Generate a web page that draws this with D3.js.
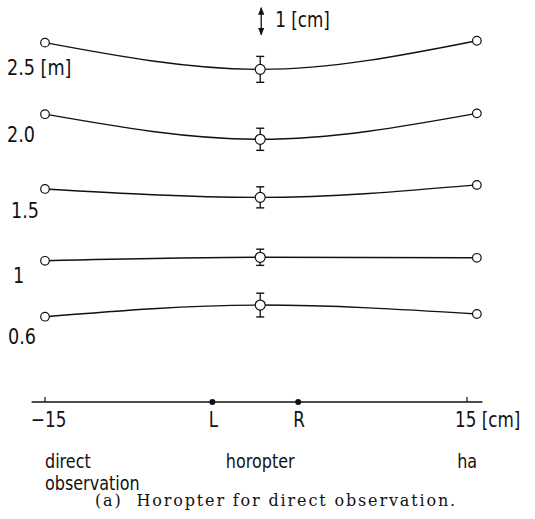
<!DOCTYPE html>
<html>
<head>
<meta charset="utf-8">
<script src="https://cdn.jsdelivr.net/npm/d3@7"></script>
<style>
	body { margin: 0; background: #fff; }
	svg { display: block; }
</style>
</head>
<body>
<div id="chart"></div>
<script>
'use strict';

// viewing distances (rows) and their labels
const rows = ["2.5 [m]", "2.0", "1.5", "1", "0.6"];

// x positions of the three measurements [cm]
const xPos = [-15, 0.3, 15.7];

// measured heights [cm above the base line], left / horopter / right
const leftVals = [13.31, 10.66, 7.89, 5.23, 3.16];
const midVals = [12.32, 9.73, 7.58, 5.36, 3.59];
const rightVals = [13.38, 10.69, 8.04, 5.34, 3.26];
// error bar half height [cm] at the horopter point
const midErr = [0.48, 0.41, 0.39, 0.30, 0.44];

// row label heights [cm]
const labelVals = [12.11, 9.64, 6.80, 4.42, 2.16];

// bottom axis
const axisTicks = [-15, 15];
const tickLabels = ["\u221215", "15 [cm]"];
const eyes = [{ name: "L", x: -3.1 }, { name: "R", x: 3.0 }];
const notes = [
	{ x: -15, lines: ["direct", "observation"], anchor: "start" },
	{ x: 0.3, lines: ["horopter"], anchor: "middle" },
	{ x: 14.3, lines: ["ha"], anchor: "start" }
];
const caption = "(a)  Horopter for direct observation.";

const width = 535, height = 519;
const sans = "'DejaVu Sans', sans-serif";
const squeeze = 0.8;	// narrow lettering of the original

const svg = d3.select("#chart")
	.append("svg")
		.attr("width", width)
		.attr("height", height)
	;

const xScale = d3.scaleLinear()
	.domain([-15, 15])
	.range([45, 467])
	;

// 1 cm on the vertical = 27 px
const yScale = d3.scaleLinear()
	.domain([0, 1])
	.range([402, 375])
	;

// narrow sans text
function label(x, y, str, size, anchor) {
	return svg.append("text")
		.attr("transform", `translate(${x},${y}) scale(${squeeze},1)`)
		.attr("text-anchor", anchor || "start")
		.attr("font-family", sans)
		.attr("font-size", size)
		.attr("fill", "#111")
		.text(str)
		;
}

const line = d3.line()
	.x(d => xScale(d.x))
	.y(d => yScale(d.y))
	.curve(d3.curveMonotoneX)
	;

const labelX = [7, 7, 11, 13, 8];

rows.forEach((r, i) => {
	const pts = [
		{ x: xPos[0], y: leftVals[i] },
		{ x: xPos[1], y: midVals[i] },
		{ x: xPos[2], y: rightVals[i] }
	];
	const g = svg.append("g");

	g.append("path")
		.datum(pts)
		.attr("d", line)
		.attr("fill", "none")
		.attr("stroke", "#111")
		.attr("stroke-width", 1.4)
		;

	// error bar on the horopter point
	const mx = xScale(xPos[1]);
	const y0 = yScale(midVals[i] - midErr[i]);
	const y1 = yScale(midVals[i] + midErr[i]);
	g.append("line")
		.attr("x1", mx).attr("x2", mx)
		.attr("y1", y0).attr("y2", y1)
		.attr("stroke", "#111")
		.attr("stroke-width", 1.3)
		;
	[y0, y1].forEach(yy => {
		g.append("line")
			.attr("x1", mx - 4).attr("x2", mx + 4)
			.attr("y1", yy).attr("y2", yy)
			.attr("stroke", "#111")
			.attr("stroke-width", 1.4)
			;
	});

	g.selectAll("circle")
		.data(pts)
		.join("circle")
			.attr("cx", d => xScale(d.x))
			.attr("cy", d => yScale(d.y))
			.attr("r", (d, j) => j == 1 ? 5 : 4.3)
			.attr("fill", "#fff")
			.attr("stroke", "#111")
			.attr("stroke-width", 1.2)
		;

	label(labelX[i], yScale(labelVals[i]), r, 22);
});

// scale arrow: 1 cm
const ax = xScale(xPos[1]) + 1;
const arrowTop = 14.6;
svg.append("defs").append("marker")
	.attr("id", "head")
	.attr("viewBox", "0 0 10 10")
	.attr("refX", 9).attr("refY", 5)
	.attr("markerWidth", 6).attr("markerHeight", 6)
	.attr("orient", "auto-start-reverse")
	.append("path")
		.attr("d", "M0,1L10,5L0,9Z")
		.attr("fill", "#111")
	;
svg.append("line")
	.attr("x1", ax).attr("x2", ax)
	.attr("y1", yScale(arrowTop - 1)).attr("y2", yScale(arrowTop))
	.attr("stroke", "#111")
	.attr("stroke-width", 1.3)
	.attr("marker-start", "url(#head)")
	.attr("marker-end", "url(#head)")
	;
label(ax + 14, 27, "1 [cm]", 21);

// bottom axis
const base = yScale(0);
svg.append("line")
	.attr("x1", xScale(-15.95)).attr("x2", xScale(16.1))
	.attr("y1", base).attr("y2", base)
	.attr("stroke", "#111")
	.attr("stroke-width", 1.3)
	;
svg.selectAll("line.tick")
	.data(axisTicks)
	.join("line")
		.attr("class", "tick")
		.attr("x1", d => xScale(d)).attr("x2", d => xScale(d))
		.attr("y1", base).attr("y2", base - 5)
		.attr("stroke", "#111")
		.attr("stroke-width", 1.2)
	;
axisTicks.forEach((d, i) => {
	label(xScale(d) + (i == 0 ? -14 : -12), 426.7, tickLabels[i], 21);
});

svg.selectAll("circle.eye")
	.data(eyes)
	.join("circle")
		.attr("class", "eye")
		.attr("cx", d => xScale(d.x))
		.attr("cy", base)
		.attr("r", 3)
		.attr("fill", "#111")
	;
eyes.forEach(d => {
	label(xScale(d.x) + 1, 426.7, d.name, 21, "middle");
});

notes.forEach(n => {
	n.lines.forEach((t, k) => {
		label(xScale(n.x), 468 + k * 22, t, 20, n.anchor);
	});
});

svg.append("text")
	.attr("x", 95)
	.attr("y", 506)
	.attr("font-family", "'DejaVu Serif', serif")
	.attr("font-size", 16)
	.attr("letter-spacing", 1.85)
	.attr("fill", "#111")
	.attr("xml:space", "preserve")
	.text(caption)
	;
</script>
</body>
</html>
